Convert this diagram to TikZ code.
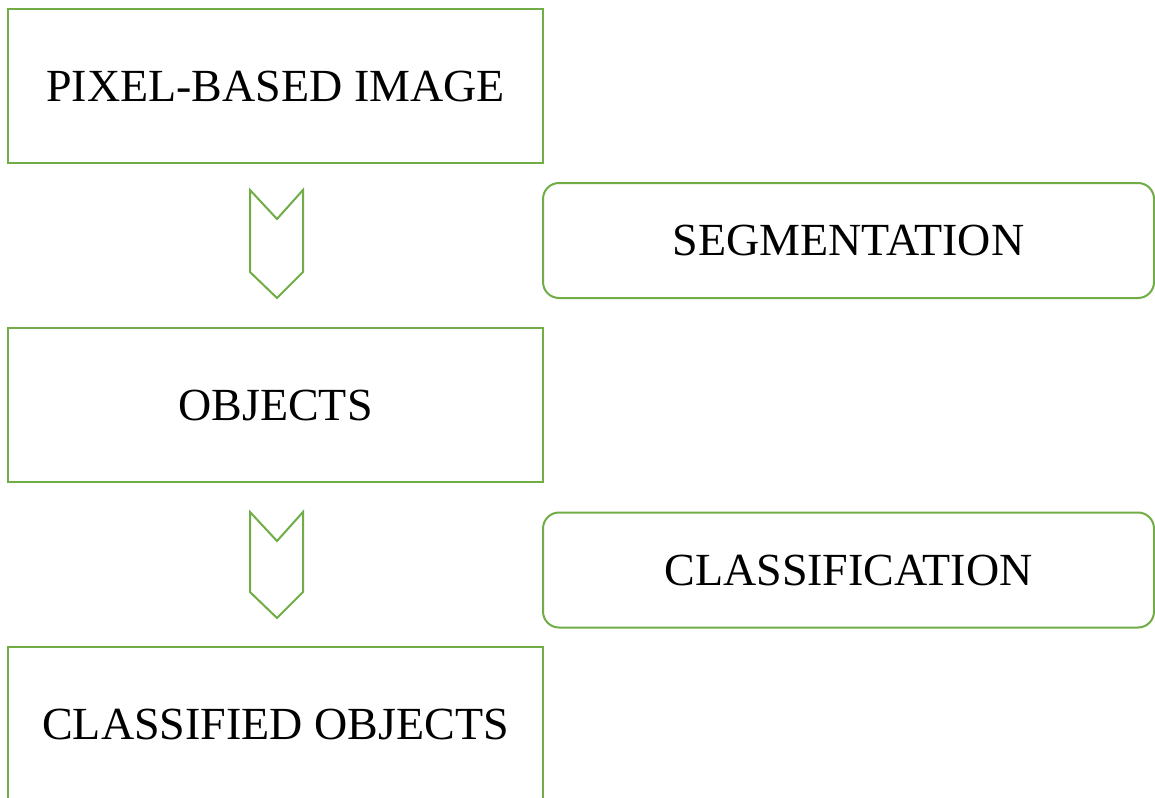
\documentclass[tikz,border=0pt]{standalone}
\usepackage{fontspec}
\setmainfont{Liberation Serif}
\definecolor{boxgreen}{HTML}{70AD47}
\begin{document}
\begin{tikzpicture}[x=1pt,y=-1pt,
  stagebox/.style={draw=boxgreen, line width=2pt, fill=white, minimum width=535pt, minimum height=154pt, inner sep=0pt, font=\fontsize{46}{50}\selectfont},
  procbox/.style={draw=boxgreen, line width=2pt, fill=white, rounded corners=16pt, minimum width=611pt, minimum height=115pt, inner sep=0pt, font=\fontsize{46}{50}\selectfont},
  chev/.style={draw=boxgreen, line width=2pt, line join=miter}]
\clip (0,0) rectangle (1155,797);
\fill[white] (0,0) rectangle (1155,797);
\node[stagebox] (img) at (275.5,86) {PIXEL-BASED IMAGE};
\node[stagebox] (obj) at (275.5,405) {OBJECTS};
\node[stagebox] (cls) at (275.5,724) {CLASSIFIED OBJECTS};
\node[procbox] (seg) at (848.5,240.5) {SEGMENTATION};
\node[procbox] (clf) at (848.5,570) {CLASSIFICATION};
\draw[chev] (250,190) -- (277,219) -- (303,190) -- (303,272) -- (277,298) -- (250,272) -- cycle;
\draw[chev] (250,512) -- (277,541) -- (303,512) -- (303,592) -- (277,618) -- (250,592) -- cycle;
\end{tikzpicture}
\end{document}
